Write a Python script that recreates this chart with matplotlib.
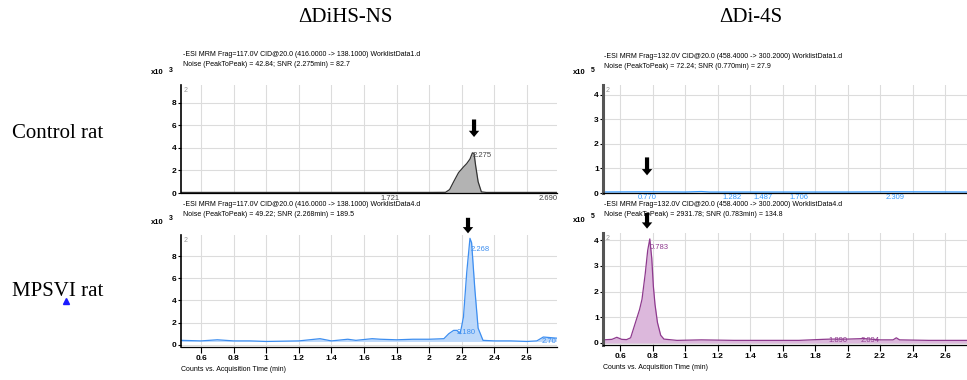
import matplotlib.pyplot as plt

W, H = 967, 380

# chromatogram traces (time in min, counts)
ns_ctrl_t = [0.48, 1.0, 1.5, 2.0, 2.10, 2.125, 2.15, 2.18, 2.21, 2.23, 2.25, 2.265, 2.275,
             2.285, 2.30, 2.32, 2.35, 2.5, 2.78]
ns_ctrl_y = [0.05, 0.05, 0.05, 0.05, 0.06, 0.3, 1.0, 1.8, 2.3, 2.6, 3.0, 3.55, 3.5,
             2.4, 1.0, 0.1, 0.05, 0.05, 0.05]

ns_mps_t = [0.48, 0.6, 0.7, 0.8, 0.9, 1.0, 1.2, 1.33, 1.4, 1.5, 1.55, 1.65, 1.7, 1.8, 1.9,
            2.0, 2.09, 2.12, 2.15, 2.17, 2.19, 2.21, 2.23, 2.25, 2.26, 2.28, 2.30, 2.33,
            2.4, 2.5, 2.6, 2.66, 2.7, 2.78]
ns_mps_y = [0.4, 0.35, 0.45, 0.35, 0.35, 0.3, 0.35, 0.55, 0.35, 0.5, 0.4, 0.55, 0.5, 0.45,
            0.5, 0.5, 0.55, 1.0, 1.3, 1.3, 1.0, 2.5, 6.5, 9.6, 9.2, 5.0, 1.5, 0.4,
            0.35, 0.35, 0.3, 0.35, 0.7, 0.6]

s4_ctrl_t = [0.49, 0.77, 1.0, 1.1, 1.15, 1.3, 1.5, 1.7, 2.0, 2.3, 2.74]
s4_ctrl_y = [0.04, 0.05, 0.04, 0.06, 0.04, 0.04, 0.04, 0.04, 0.04, 0.05, 0.04]

s4_mps_t = [0.495, 0.55, 0.58, 0.61, 0.64, 0.665, 0.69, 0.72, 0.735, 0.755, 0.77, 0.783,
            0.795, 0.805, 0.815, 0.83, 0.85, 0.87, 0.95, 1.1, 1.3, 1.5, 1.7, 1.85, 1.9,
            2.0, 2.1, 2.2, 2.28, 2.3, 2.32, 2.5, 2.74]
s4_mps_y = [0.12, 0.14, 0.22, 0.14, 0.13, 0.2, 0.7, 1.3, 1.7, 2.7, 3.6, 4.05,
            3.3, 2.2, 1.5, 0.8, 0.3, 0.15, 0.1, 0.12, 0.1, 0.1, 0.1, 0.14, 0.15,
            0.15, 0.17, 0.12, 0.12, 0.2, 0.12, 0.1, 0.1]

headers = [
    ["-ESI MRM Frag=117.0V CID@20.0 (416.0000 -> 138.1000) WorklistData1.d",
     "Noise (PeakToPeak) = 42.84; SNR (2.275min) = 82.7"],
    ["-ESI MRM Frag=117.0V CID@20.0 (416.0000 -> 138.1000) WorklistData4.d",
     "Noise (PeakToPeak) = 49.22; SNR (2.268min) = 189.5"],
    ["-ESI MRM Frag=132.0V CID@20.0 (458.4000 -> 300.2000) WorklistData1.d",
     "Noise (PeakToPeak) = 72.24; SNR (0.770min) = 27.9"],
    ["-ESI MRM Frag=132.0V CID@20.0 (458.4000 -> 300.2000) WorklistData4.d",
     "Noise (PeakToPeak) = 2931.78; SNR (0.783min) = 134.8"],
]
exponents = ["3", "3", "5", "5"]
xticks = [0.6, 0.8, 1, 1.2, 1.4, 1.6, 1.8, 2, 2.2, 2.4, 2.6]
xtick_labels = ["0.6", "0.8", "1", "1.2", "1.4", "1.6", "1.8", "2", "2.2", "2.4", "2.6"]

plt.rcParams['font.family'] = ['Liberation Sans', 'DejaVu Sans']
fig = plt.figure(figsize=(W / 100, H / 100), dpi=100)


def fx(x):
    return x / W


def fy(y):
    return 1 - y / H


def make_ax(x0, x1, y0, y1):
    return fig.add_axes([fx(x0), fy(y1), fx(x1 - x0), (y1 - y0) / H])


axes = [make_ax(181, 557, 85, 193), make_ax(181, 557, 235, 347),
        make_ax(603, 967, 85, 193), make_ax(603, 967, 233, 345)]
xlims = [(0.477, 2.784), (0.477, 2.784), (0.495, 2.735), (0.495, 2.735)]
ylims = [(0, 9.55), (-0.2, 9.9), (0, 4.4), (-0.08, 4.28)]
yticks = [[0, 2, 4, 6, 8], [0, 2, 4, 6, 8], [0, 1, 2, 3, 4], [0, 1, 2, 3, 4]]
traces = [(ns_ctrl_t, ns_ctrl_y, '#333333', '#b3b3b3'),
          (ns_mps_t, ns_mps_y, '#3d8ef0', '#bcd8fa'),
          (s4_ctrl_t, s4_ctrl_y, '#3399ff', None),
          (s4_mps_t, s4_mps_y, '#8e3a8e', '#dcb8dc')]

for i, ax in enumerate(axes):
    t, y, lc, fc = traces[i]
    if fc:
        ax.fill_between(t, 0 if i != 1 else 0.3, y, color=fc, lw=0)
    ax.plot(t, y, color=lc, lw=0.9)
    ax.set_xlim(*xlims[i])
    ax.set_ylim(*ylims[i])
    ax.set_xticks(xticks)
    ax.set_yticks(yticks[i])
    ax.grid(True, color='#dcdcdc', lw=0.8)
    ax.set_axisbelow(True)
    for s in ['top', 'right']:
        ax.spines[s].set_visible(False)
    ax.spines['left'].set_linewidth(2.2 if i >= 2 else 1.2)
    ax.spines['left'].set_color('#555555' if i >= 2 else 'black')
    ax.spines['bottom'].set_linewidth(0.9)
    ax.tick_params(axis='y', length=2, pad=1, labelsize=6)
    for lab in ax.get_yticklabels():
        lab.set_fontweight('bold')
    if i in (1, 3):
        ax.set_xticklabels(xtick_labels, fontsize=6, fontweight='bold')
        ax.tick_params(axis='x', length=4, pad=1.5)
        ax.set_xlabel("Counts vs. Acquisition Time (min)", fontsize=5, loc='left', labelpad=3)
    else:
        ax.tick_params(axis='x', length=0, labelbottom=False)
    ax.text(0.008, 0.985, "2", transform=ax.transAxes, fontsize=5, color='#999999',
            ha='left', va='top')

# header text blocks
hx = [183, 183, 604, 604]
hy = [55, 205, 56, 204]
ex = [151, 151, 573, 573]
ey = [73, 222, 73, 220]
for i in range(4):
    fig.text(fx(hx[i]), fy(hy[i]), headers[i][0], fontsize=5, va='center')
    fig.text(fx(hx[i]), fy(hy[i] + 10), headers[i][1], fontsize=5, va='center')
    fig.text(fx(ex[i]), fy(ey[i]), "x10", fontsize=5.5, va='center', fontweight='bold')
    fig.text(fx(ex[i] + 18), fy(ey[i] - 3), exponents[i], fontsize=5, va='center',
             fontweight='bold')

# peak labels
ax = axes[0]
ax.text(2.269, 3.3, "2.275", fontsize=5.5, color='#444444', va='center')
ax.text(1.70, -0.15, "1.721", fontsize=5.5, color='#444444', va='top', clip_on=False)
ax.text(2.67, -0.15, "2.690", fontsize=5.5, color='#444444', va='top', clip_on=False)
ax = axes[1]
ax.text(2.255, 8.6, "2.268", fontsize=5.5, color='#3d8ef0', va='center')
ax.text(2.165, 1.1, "2.180", fontsize=5.5, color='#3d8ef0', va='center')
ax.text(2.69, 0.3, "2.70", fontsize=5.5, color='#3d8ef0', va='center', clip_on=False)
ax = axes[2]
for x, s in [(0.766, "0.770"), (1.29, "1.282"), (1.48, "1.487"), (1.70, "1.706"), (2.29, "2.309")]:
    ax.text(x, -0.03, s, fontsize=5.5, color='#3399ff', ha='center', va='top', clip_on=False)
ax = axes[3]
ax.text(0.785, 3.7, "0.783", fontsize=5.5, color='#8e3a8e', va='center')
ax.text(1.88, 0.1, "1.890", fontsize=5.5, color='#8e3a8e', va='center')
ax.text(2.08, 0.1, "2.094", fontsize=5.5, color='#8e3a8e', va='center')

# black arrows marking the peaks
arrow = dict(arrowstyle='simple,head_width=0.75,head_length=0.45,tail_width=0.3',
             color='black', lw=0, shrinkA=0, shrinkB=0)
for ax, x, y0, y1 in [(axes[0], 2.275, 6.5, 4.95), (axes[1], 2.238, 11.45, 10.05),
                      (axes[2], 0.766, 1.45, 0.72), (axes[3], 0.766, 5.06, 4.45)]:
    ax.annotate('', xy=(x, y1), xytext=(x, y0), arrowprops=arrow, annotation_clip=False)

# titles and row labels
serif = ['Liberation Serif', 'DejaVu Serif']
fig.text(fx(345), fy(18), "\u0394DiHS-NS", fontsize=15, family=serif, ha='center', va='center')
fig.text(fx(751), fy(18), "\u0394Di-4S", fontsize=15, family=serif, ha='center', va='center')
fig.text(fx(12), fy(133), "Control rat", fontsize=15, family=serif, va='center')
fig.text(fx(12), fy(291), "MPSVI rat", fontsize=15, family=serif, va='center')
fig.lines.append(plt.Line2D([fx(66)], [fy(301)], marker='^', ms=5, color='#1a1aff',
                            transform=fig.transFigure))

fig.savefig('out.png', dpi=100)
